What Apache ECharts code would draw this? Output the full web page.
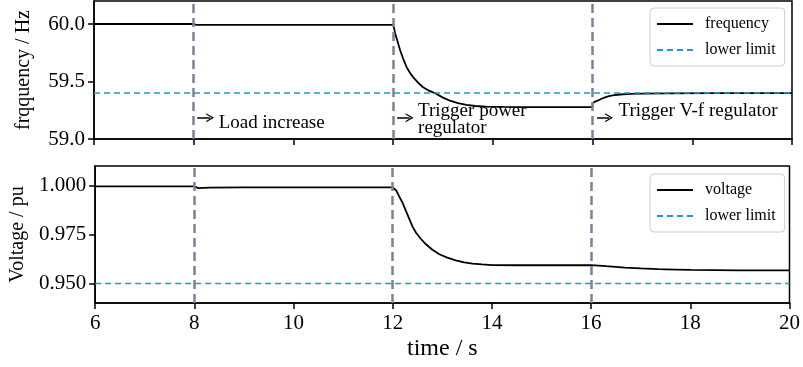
<!DOCTYPE html>
<html>
<head>
    <meta charset="utf-8">
    <title>frequency / voltage</title>
    <script src="https://cdn.jsdelivr.net/npm/echarts@6/dist/echarts.min.js"></script>
</head>
<body style="margin:0">
<div id="main" style="width: 803px;height:367px;"></div>
<script type="text/javascript">
// frequency trace (s, Hz)
var freqT = [6, 8, 8.05, 12, 12.02, 12.04, 12.08, 12.14, 12.2, 12.27, 12.33, 12.4, 12.5, 12.6, 12.73, 12.87, 13, 13.14, 13.3, 13.47, 13.65, 13.87, 14.2, 14.6, 16, 16, 16.05, 16.1, 16.18, 16.25, 16.33, 16.4, 16.55, 16.75, 17, 17.5, 18.5, 20];
var freqV = [60.0, 60.0, 59.992, 59.992, 59.96, 59.918, 59.86, 59.772, 59.7, 59.625, 59.58, 59.538, 59.49, 59.45, 59.418, 59.392, 59.36, 59.333, 59.312, 59.296, 59.287, 59.281, 59.279, 59.278, 59.278, 59.313, 59.325, 59.333, 59.35, 59.362, 59.372, 59.38, 59.387, 59.392, 59.395, 59.397, 59.399, 59.399];
// voltage trace (s, pu)
var voltT = [6, 8, 8.08, 8.3, 9, 12, 12.03, 12.07, 12.13, 12.2, 12.27, 12.34, 12.4, 12.47, 12.57, 12.67, 12.8, 12.94, 13.1, 13.27, 13.44, 13.61, 13.8, 14.01, 14.54, 15.5, 16, 16.3, 16.68, 17, 17.35, 17.7, 18.02, 18.5, 19, 20];
var voltV = [0.9996, 0.9996, 0.9987, 0.9989, 0.9991, 0.9991, 0.9985, 0.9975, 0.9945, 0.9911, 0.9868, 0.9826, 0.979, 0.9759, 0.9727, 0.97, 0.9672, 0.9649, 0.9632, 0.9618, 0.9608, 0.9601, 0.9597, 0.9594, 0.9593, 0.9593, 0.9594, 0.9588, 0.9581, 0.9577, 0.9573, 0.9571, 0.9569, 0.9568, 0.9567, 0.9567];

var freqLimit = 59.4;
var voltLimit = 0.95;
var events = [8, 12, 16];
var freqTicks = [59.0, 59.5, 60.0];
var voltTicks = [0.95, 0.975, 1.0];

// annotations: arrow start, arrow end, text anchor
var notes = [
    {text: 'Load increase', a: [8.07, 59.184], b: [8.33, 59.184], at: [8.5, 59.14]},
    {text: 'Trigger power\nregulator', a: [12.08, 59.184], b: [12.33, 59.184], at: [12.5, 59.172]},
    {text: 'Trigger V-f regulator', a: [16.09, 59.184], b: [16.33, 59.184], at: [16.52, 59.245]}
];

function pairs(xs, ys) {
    var out = [];
    for (var i = 0; i < xs.length; i++) out.push([xs[i], ys[i]]);
    return out;
}

var FONT = 'Liberation Serif';
var evColor = '#7b8398';
var limColor = '#1a9bd6';
var chevron = 'path://M0,10 L5,0 L10,10 L8.6,10 L5,3.2 L1.4,10 Z';

var eventLines = {
    silent: true,
    symbol: 'none',
    label: {show: false},
    lineStyle: {color: evColor, width: 2.5, type: [9, 5]},
    data: events.map(function (t) { return {xAxis: t}; })
};

function legendBox(names, top) {
    return {
        data: names, orient: 'vertical', left: 650, top: top,
        itemWidth: 36, itemHeight: 14, itemGap: 10, padding: [8, 9, 8, 6],
        borderColor: '#cccccc', borderWidth: 1, borderRadius: 4, backgroundColor: '#fff',
        itemStyle: {opacity: 0},
        textStyle: {fontFamily: FONT, fontSize: 16, color: '#000', padding: [0, 0, 0, 7]}
    };
}

var myChart = echarts.init(document.getElementById('main'));
var option = {
    animation: false,
    textStyle: {fontFamily: FONT, color: '#000'},
    grid: [
        {left: 94, top: 1, width: 698, height: 138, show: true, borderColor: '#000', borderWidth: 1.5},
        {left: 94, top: 166, width: 698, height: 137, show: true, borderColor: '#000', borderWidth: 1.5}
    ],
    legend: [
        legendBox(['frequency', 'lower limit'], 8),
        legendBox(['voltage', 'lower limit'], 174)
    ],
    xAxis: [
        {
            type: 'value', gridIndex: 0, min: 6, max: 20, interval: 2,
            axisLine: {lineStyle: {color: '#000', width: 1.5}},
            axisTick: {length: 6, lineStyle: {color: '#000', width: 1.5}},
            axisLabel: {show: false},
            splitLine: {show: false}
        },
        {
            type: 'value', gridIndex: 1, min: 6, max: 20, interval: 2,
            name: 'time / s', nameLocation: 'middle', nameGap: 34,
            nameTextStyle: {fontFamily: FONT, fontSize: 24, color: '#000'},
            axisLine: {lineStyle: {color: '#000', width: 1.5}},
            axisTick: {length: 6, lineStyle: {color: '#000', width: 1.5}},
            axisLabel: {fontFamily: FONT, fontSize: 21, color: '#000', margin: 10},
            splitLine: {show: false}
        }
    ],
    yAxis: [
        {
            type: 'value', gridIndex: 0, min: 59.0, max: 60.2,
            name: 'frqquency / Hz', nameLocation: 'middle', nameGap: 60,
            nameTextStyle: {fontFamily: FONT, fontSize: 20, color: '#000'},
            axisLine: {lineStyle: {color: '#000', width: 1.5}},
            axisTick: {length: 6, customValues: freqTicks, lineStyle: {color: '#000', width: 1.5}},
            axisLabel: {fontFamily: FONT, fontSize: 21, color: '#000', margin: 9, customValues: freqTicks,
                formatter: function (v) { return v.toFixed(1); }},
            splitLine: {show: false}
        },
        {
            type: 'value', gridIndex: 1, min: 0.94, max: 1.01,
            name: 'Voltage / pu', nameLocation: 'middle', nameGap: 60,
            nameTextStyle: {fontFamily: FONT, fontSize: 20, color: '#000'},
            axisLine: {lineStyle: {color: '#000', width: 1.5}},
            axisTick: {length: 6, customValues: voltTicks, lineStyle: {color: '#000', width: 1.5}},
            axisLabel: {fontFamily: FONT, fontSize: 21, color: '#000', margin: 9, customValues: voltTicks,
                formatter: function (v) { return v.toFixed(3); }},
            splitLine: {show: false}
        }
    ],
    series: [
        {
            name: 'frequency', type: 'line', xAxisIndex: 0, yAxisIndex: 0, symbol: 'none',
            lineStyle: {color: '#000', width: 1.8}, itemStyle: {color: '#000'},
            data: pairs(freqT, freqV), z: 3
        },
        {
            name: 'lower limit', type: 'line', xAxisIndex: 0, yAxisIndex: 0, symbol: 'none',
            lineStyle: {color: limColor, width: 1.6, type: [6, 4]}, itemStyle: {color: limColor},
            data: [[6, freqLimit], [20, freqLimit]],
            markLine: eventLines
        },
        {
            name: 'voltage', type: 'line', xAxisIndex: 1, yAxisIndex: 1, symbol: 'none',
            lineStyle: {color: '#000', width: 1.8}, itemStyle: {color: '#000'},
            data: pairs(voltT, voltV), z: 3
        },
        {
            name: 'lower limit', type: 'line', xAxisIndex: 1, yAxisIndex: 1, symbol: 'none',
            lineStyle: {color: limColor, width: 1.6, type: [6, 4]}, itemStyle: {color: limColor},
            data: [[6, voltLimit], [20, voltLimit]],
            markLine: eventLines
        },
        {
            name: 'notes', type: 'scatter', xAxisIndex: 0, yAxisIndex: 0, symbolSize: 0, silent: true,
            itemStyle: {opacity: 1},
            data: notes.map(function (n) { return {value: n.at, name: n.text}; }),
            label: {
                show: true, position: 'right', distance: 0, formatter: '{b}',
                fontFamily: FONT, fontSize: 19, color: '#000', opacity: 1, textBorderWidth: 0,
                lineHeight: 17, align: 'left', verticalAlign: 'middle'
            },
            markLine: {
                silent: true,
                symbol: ['none', chevron], symbolSize: [9, 8],
                label: {show: false},
                lineStyle: {color: '#000', width: 1.5, type: 'solid'},
                data: notes.map(function (n) { return [{coord: n.a}, {coord: n.b}]; })
            }
        }
    ]
};
myChart.setOption(option);
window.onresize = function () {
    myChart.resize();
};
</script>
</body>
</html>
